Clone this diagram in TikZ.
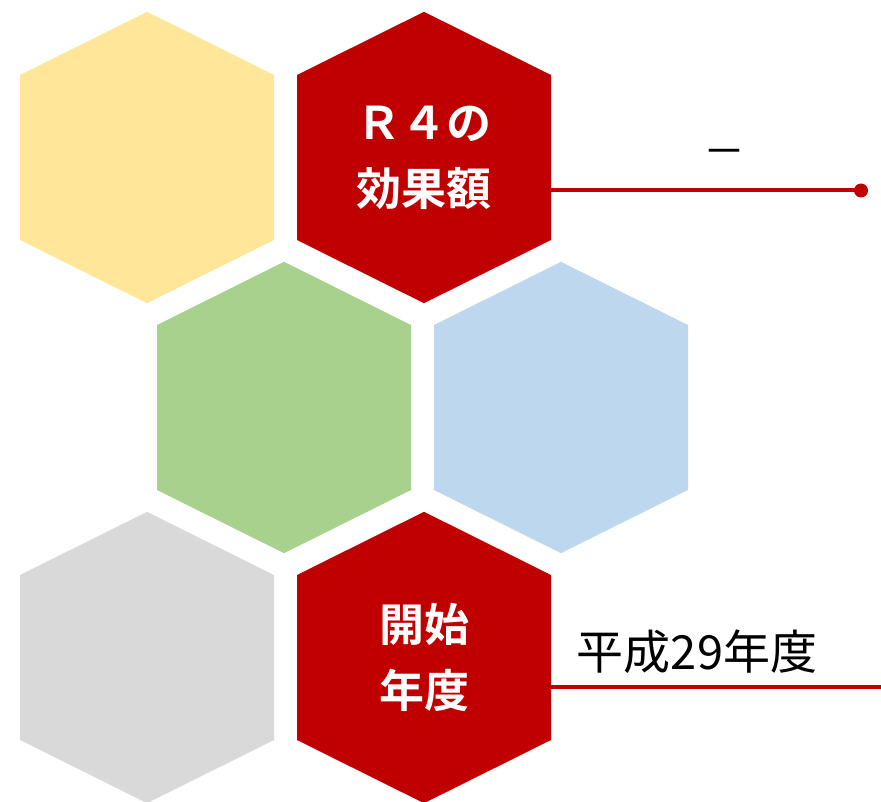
\documentclass[tikz,border=0pt]{standalone}
\usepackage{fontspec}
\newfontfamily\jpfont{Noto Sans CJK JP}
\newfontfamily\jpbold{Noto Sans CJK JP Bold}
\definecolor{hexyellow}{HTML}{FFE699}
\definecolor{hexred}{HTML}{C00000}
\definecolor{hexgreen}{HTML}{A9D18E}
\definecolor{hexblue}{HTML}{BDD7EE}
\definecolor{hexgray}{HTML}{D9D9D9}
\tikzset{
  hexnode/.style={rectangle, draw=none, minimum width=254pt, minimum height=291.4pt, inner sep=0pt,
    text=white, align=center, font=\jpbold\fontsize{45}{66}\selectfont},
  redline/.style={draw=hexred, line width=4pt},
  valtext/.style={font=\jpfont\fontsize{47}{50}\selectfont, text=black, inner sep=0pt}
}
\newcommand\myhexagon[4]{%
  \fill[#3] (#2) ++(0,-145.7) -- ++(127,63.2) -- ++(0,165) -- ++(-127,63.2) -- ++(-127,-63.2) -- ++(0,-165) -- cycle;
  \node[hexnode] (#1) at (#2) {#4};
}
\begin{document}
\begin{tikzpicture}[x=1pt,y=-1pt]
\useasboundingbox (0,0) rectangle (881,802);
\myhexagon{h1}{147,157.5}{hexyellow}{}
\myhexagon{h2}{424,157.5}{hexred}{Ｒ４の\\効果額}
\myhexagon{h3}{284,407.5}{hexgreen}{}
\myhexagon{h4}{561,407.5}{hexblue}{}
\myhexagon{h5}{147,657.5}{hexgray}{}
\myhexagon{h6}{424,657.5}{hexred}{開始\\年度}
\coordinate (d1) at (861,190.5);
\coordinate (e2) at (881,687);
\draw[redline] (h2.east |- d1) -- (d1);
\fill[hexred] (d1) circle (7);
\draw[redline] (h6.east |- e2) -- (e2);
\node[valtext, font=\jpfont\fontsize{42}{50}\selectfont] (v1) at (724,158) {－};
\node[valtext] (v2) at (697,652) {平成29年度};
\end{tikzpicture}
\end{document}
